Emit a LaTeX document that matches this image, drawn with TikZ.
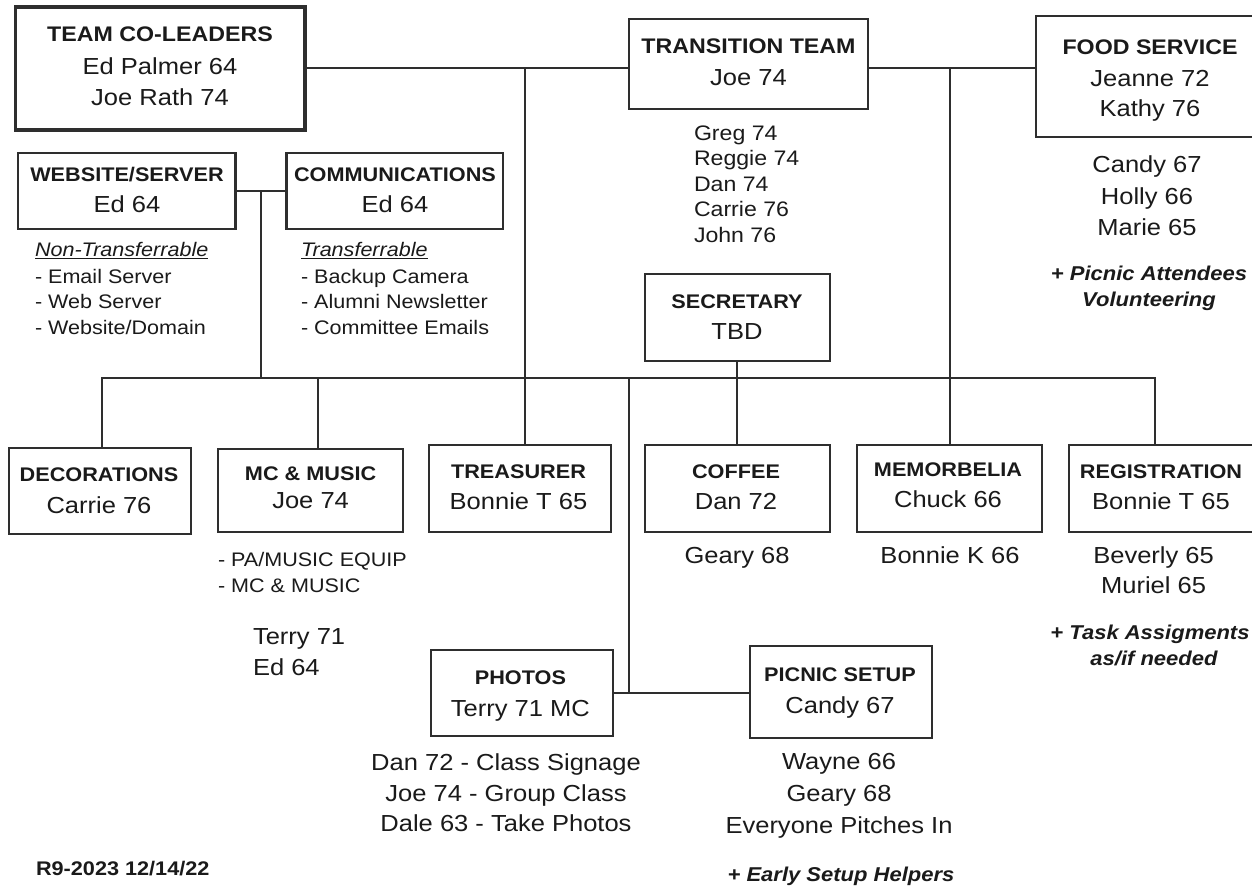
\documentclass[tikz,border=0pt]{standalone}
\usepackage{fontspec}
\setmainfont{Liberation Sans}[FakeStretch=1.1]
\definecolor{ink}{HTML}{1A1A1A}
\definecolor{wirecol}{HTML}{2E2E2E}
\tikzset{
  boxshape/.style={draw=wirecol, line width=2.2pt, rectangle, inner sep=0pt, outer sep=0pt},
  wire/.style={draw=wirecol, line width=2pt},
  txt/.style={inner sep=0pt, outer sep=0pt, text=ink},
  bodytxt/.style={txt, font=\fontsize{23.2}{28}\selectfont},
  headbig/.style={txt, font=\fontsize{21.1}{25}\selectfont\bfseries},
  headsm/.style={txt, font=\fontsize{19.7}{24}\selectfont\bfseries},
  listsm/.style={txt, font=\fontsize{19.6}{24}\selectfont},
  listmd/.style={txt, font=\fontsize{21}{25}\selectfont},
  notetxt/.style={txt, font=\fontsize{20}{24}\selectfont\bfseries\itshape},
}
\begin{document}
\begin{tikzpicture}[x=1pt,y=-1pt]
\path[use as bounding box, fill=white] (0,0) rectangle (1252,888);

% boxes
\node[boxshape, line width=3.4pt, minimum width=289.5pt, minimum height=123pt] (tcl) at (160.25,68.5) {};
\node[boxshape, minimum width=217.5pt, minimum height=76pt] (web) at (126.75,191) {};
\node[boxshape, minimum width=216.5pt, minimum height=76pt] (comm) at (394.75,191) {};
\node[boxshape, minimum width=239pt, minimum height=90pt] (trans) at (748.5,64) {};
\node[boxshape, minimum width=226pt, minimum height=121pt] (food) at (1149,76.5) {};
\node[boxshape, minimum width=185.4pt, minimum height=87pt] (sec) at (737.3,317.5) {};
\node[boxshape, minimum width=182pt, minimum height=86pt] (deco) at (100,491) {};
\node[boxshape, minimum width=185pt, minimum height=83pt] (mc) at (310.5,490.5) {};
\node[boxshape, minimum width=182pt, minimum height=87pt] (treas) at (520,488.5) {};
\node[boxshape, minimum width=185.4pt, minimum height=87pt] (coffee) at (737.3,488.5) {};
\node[boxshape, minimum width=185pt, minimum height=87pt] (memo) at (949.5,488.5) {};
\node[boxshape, minimum width=187pt, minimum height=87pt] (reg) at (1162.5,488.5) {};
\node[boxshape, minimum width=182pt, minimum height=86pt] (photos) at (522,693) {};
\node[boxshape, minimum width=182pt, minimum height=92pt] (picnic) at (841,692) {};

% junction coordinates
\coordinate (jT) at (524.5,68.5);
\coordinate (jF) at (950,68.5);
\coordinate (jW) at (261,191);
\coordinate (barL) at (102,378);
\coordinate (barR) at (1155,378);
\coordinate (jM) at (317.5,378);
\coordinate (jP) at (628.5,378);

% connectors
\draw[wire] (tcl.east) -- (tcl.east -| trans.west);
\draw[wire] (trans.east |- tcl.east) -- (tcl.east -| food.west);
\draw[wire] (jT) -- (jT |- treas.north);
\draw[wire] (jF) -- (jF |- memo.north);
\draw[wire] (web.east) -- (comm.west);
\draw[wire] (jW) -- (jW |- barL);
\draw[wire] (barL |- deco.north) -- (barL) -- (barR) -- (barR |- reg.north);
\draw[wire] (jM) -- (jM |- mc.north);
\draw[wire] (sec.south) -- (coffee.north);
\draw[wire] (jP) -- (jP |- photos.east);
\draw[wire] (photos.east) -- (photos.east -| picnic.west);

% team co-leaders
\node[headbig, anchor=base] (tclh) at (160,41.8) {TEAM CO-LEADERS};
\node[bodytxt, anchor=base] (tcl1) at (160,74.2) {Ed Palmer 64};
\node[bodytxt, anchor=base] (tcl2) at (160,105.2) {Joe Rath 74};

% website / communications
\node[headsm, anchor=base] (webh) at (127,181.5) {WEBSITE/SERVER};
\node[bodytxt, anchor=base] (web1) at (127,212.8) {Ed 64};
\node[headsm, anchor=base] (commh) at (395,181.5) {COMMUNICATIONS};
\node[bodytxt, anchor=base] (comm1) at (395,212.8) {Ed 64};

\node[listsm, anchor=base west] (nt0) at (35,256.5) {\underline{\itshape Non-Transferrable}};
\node[listsm, anchor=base west] (nt1) at (35,283) {- Email Server};
\node[listsm, anchor=base west] (nt2) at (35,308.5) {- Web Server};
\node[listsm, anchor=base west] (nt3) at (35,334) {- Website/Domain};
\node[listsm, anchor=base west] (tr0) at (301,256.5) {\underline{\itshape Transferrable}};
\node[listsm, anchor=base west] (tr1) at (301,283) {- Backup Camera};
\node[listsm, anchor=base west] (tr2) at (301,308.5) {- Alumni Newsletter};
\node[listsm, anchor=base west] (tr3) at (301,334) {- Committee Emails};

% transition team
\node[headbig, anchor=base] (transh) at (748.5,53.5) {TRANSITION TEAM};
\node[bodytxt, anchor=base] (trans1) at (748.5,85.2) {Joe 74};
\node[listmd, anchor=base west] (tt1) at (694,140) {Greg 74};
\node[listmd, anchor=base west] (tt2) at (694,165.5) {Reggie 74};
\node[listmd, anchor=base west] (tt3) at (694,191) {Dan 74};
\node[listmd, anchor=base west] (tt4) at (694,216.5) {Carrie 76};
\node[listmd, anchor=base west] (tt5) at (694,242) {John 76};

% food service
\node[headbig, anchor=base] (foodh) at (1150,54.8) {FOOD SERVICE};
\node[bodytxt, anchor=base] (food1) at (1150,86.6) {Jeanne 72};
\node[bodytxt, anchor=base] (food2) at (1150,116.6) {Kathy 76};
\node[bodytxt, anchor=base] (fs1) at (1147,172.7) {Candy 67};
\node[bodytxt, anchor=base] (fs2) at (1147,204) {Holly 66};
\node[bodytxt, anchor=base] (fs3) at (1147,235) {Marie 65};
\node[notetxt, anchor=base] (fsn1) at (1149,280.7) {+ Picnic Attendees};
\node[notetxt, anchor=base] (fsn2) at (1149,306) {Volunteering};

% secretary
\node[headsm, anchor=base] (sech) at (737,308) {SECRETARY};
\node[bodytxt, anchor=base] (sec1) at (737,339.3) {TBD};

% decorations
\node[headsm, anchor=base] (decoh) at (99,481.7) {DECORATIONS};
\node[bodytxt, anchor=base] (deco1) at (99,513) {Carrie 76};

% mc & music
\node[headsm, anchor=base] (mch) at (310.6,480.7) {MC \& MUSIC};
\node[bodytxt, anchor=base] (mc1) at (310.6,508.3) {Joe 74};
\node[listsm, anchor=base west] (mcl1) at (218,566.7) {- PA/MUSIC EQUIP};
\node[listsm, anchor=base west] (mcl2) at (218,592.7) {- MC \& MUSIC};
\node[bodytxt, anchor=base west] (mcp1) at (253,644) {Terry 71};
\node[bodytxt, anchor=base west] (mcp2) at (253,675) {Ed 64};

% treasurer
\node[headsm, anchor=base] (treash) at (518.5,478.7) {TREASURER};
\node[bodytxt, anchor=base] (treas1) at (518.5,509.3) {Bonnie T 65};

% coffee
\node[headsm, anchor=base] (coffeeh) at (736,478.3) {COFFEE};
\node[bodytxt, anchor=base] (coffee1) at (736,509.3) {Dan 72};
\node[bodytxt, anchor=base] (cof2) at (737,563.3) {Geary 68};

% memorbelia
\node[headsm, anchor=base] (memoh) at (948,476.7) {MEMORBELIA};
\node[bodytxt, anchor=base] (memo1) at (948,507.3) {Chuck 66};
\node[bodytxt, anchor=base] (mem2) at (950,563.3) {Bonnie K 66};

% registration
\node[headsm, anchor=base] (regh) at (1161,478.3) {REGISTRATION};
\node[bodytxt, anchor=base] (reg1) at (1161,509.3) {Bonnie T 65};
\node[bodytxt, anchor=base] (rg1) at (1153.6,563.3) {Beverly 65};
\node[bodytxt, anchor=base] (rg2) at (1153.6,593.3) {Muriel 65};
\node[notetxt, anchor=base] (rgn1) at (1150,639.3) {+ Task Assigments};
\node[notetxt, anchor=base] (rgn2) at (1154,665) {as/if needed};

% photos
\node[headsm, anchor=base] (photosh) at (520.4,684) {PHOTOS};
\node[bodytxt, anchor=base] (photos1) at (520.4,716) {Terry 71 MC};
\node[bodytxt, anchor=base] (ph1) at (506,770) {Dan 72 - Class Signage};
\node[bodytxt, anchor=base] (ph2) at (506,801.7) {Joe 74 - Group Class};
\node[bodytxt, anchor=base] (ph3) at (506,831.7) {Dale 63 - Take Photos};

% picnic setup
\node[headsm, anchor=base] (picnich) at (840,681.7) {PICNIC SETUP};
\node[bodytxt, anchor=base] (picnic1) at (840,713.3) {Candy 67};
\node[bodytxt, anchor=base] (pc1) at (839,769) {Wayne 66};
\node[bodytxt, anchor=base] (pc2) at (839,801) {Geary 68};
\node[bodytxt, anchor=base] (pc3) at (839,833.3) {Everyone Pitches In};
\node[notetxt, anchor=base] (pcn) at (841,881.7) {+ Early Setup Helpers};

% revision
\node[headsm, anchor=base west] (rev) at (36,875.7) {R9-2023 12/14/22};
\end{tikzpicture}
\end{document}
